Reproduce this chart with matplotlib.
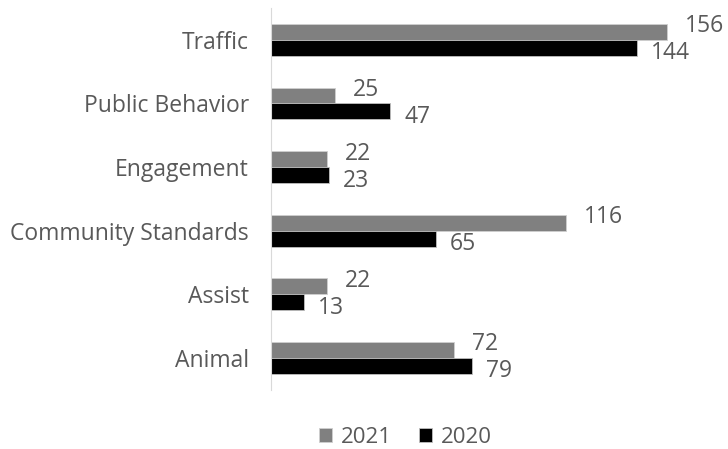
import matplotlib.pyplot as plt
import numpy as np

plt.rcParams['font.family'] = ['Open Sans', 'DejaVu Sans']

categories = ['Traffic', 'Public Behavior', 'Engagement', 'Community Standards', 'Assist', 'Animal']
vals_2021 = [156, 25, 22, 116, 22, 72]
vals_2020 = [144, 47, 23, 65, 13, 79]

txt = '#595959'
y = np.arange(len(categories))
h = 0.25

fig = plt.figure(figsize=(7.28, 4.49), dpi=100)
ax = fig.add_axes([271 / 728, 0.132, 437 / 728, 0.85])

ax.barh(y - h / 2, vals_2021, height=h, color='#808080', edgecolor='#cfcfcf', linewidth=0.6, label='2021')
ax.barh(y + h / 2, vals_2020, height=h, color='#000000', edgecolor='#bfbfbf', linewidth=0.6, label='2020')

for i in range(len(categories)):
    ax.annotate(str(vals_2021[i]), (vals_2021[i], y[i] - h / 2), xytext=(13, 4),
                textcoords='offset points', va='center', ha='left', fontsize=16.5, color=txt)
    ax.annotate(str(vals_2020[i]), (vals_2020[i], y[i] + h / 2), xytext=(10, -4),
                textcoords='offset points', va='center', ha='left', fontsize=16.5, color=txt)

ax.set_xlim(0, 172)
ax.set_ylim(len(categories) - 0.5, -0.5)
ax.set_yticks(y)
ax.set_yticklabels(categories, fontsize=16.5, color=txt)
ax.tick_params(axis='y', length=0, pad=16)
ax.set_xticks([])
for s in ['top', 'right', 'bottom']:
    ax.spines[s].set_visible(False)
ax.spines['left'].set_color('#d9d9d9')

fig.legend(loc='center', bbox_to_anchor=(0.557, 0.025), ncol=2, frameon=False,
           fontsize=16, labelcolor=txt, handlelength=0.6, handleheight=0.6,
           handletextpad=0.4, columnspacing=1.2)

fig.savefig('out.png', dpi=100)
